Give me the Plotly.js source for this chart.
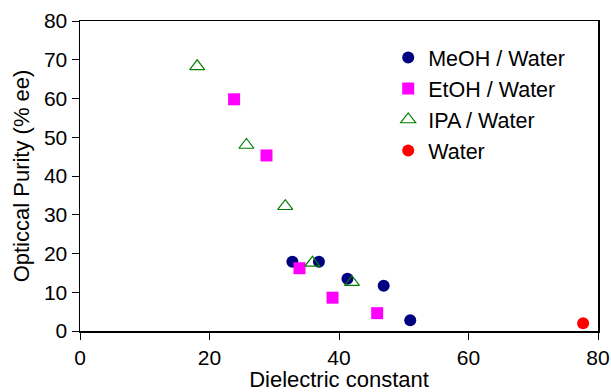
<!DOCTYPE html>
<html><head><meta charset="utf-8">
<script src="https://cdn.plot.ly/plotly-3.0.1.min.js"></script>
<style>html,body{margin:0;padding:0;background:#fff}</style>
</head><body>
<div id="chart" style="width:611px;height:392px"></div>
<script>
var meohX = [32.8, 36.9, 41.3, 46.9, 51.0];
var meohY = [17.9, 17.9, 13.5, 11.7, 2.8];
var etohX = [23.8, 28.8, 33.9, 39.0, 45.9];
var etohY = [59.8, 45.3, 16.2, 8.6, 4.6];
var ipaX = [18.1, 25.7, 31.7, 35.9, 42.0];
var ipaY = [68.3, 48.0, 32.2, 17.6, 12.6];
var waterX = [77.7];
var waterY = [2.0];
var names = ['MeOH / Water', 'EtOH / Water', 'IPA / Water', 'Water'];

var traces = [
  {x: meohX, y: meohY, name: names[0], legendgroup: 'a', mode: 'markers', type: 'scatter',
   marker: {symbol: 'circle', size: 12, color: '#000080'}},
  {x: etohX, y: etohY, name: names[1], legendgroup: 'b', mode: 'markers', type: 'scatter',
   marker: {symbol: 'square', size: 12, color: '#FF00FF'}},
  {x: ipaX, y: ipaY, name: names[2], legendgroup: 'c', mode: 'markers', type: 'scatter',
   marker: {symbol: 'triangle-up-open', size: 13, color: '#008000', line: {width: 1.2, color: '#008000'}}},
  {x: waterX, y: waterY, name: names[3], legendgroup: 'd', mode: 'markers', type: 'scatter',
   marker: {symbol: 'circle', size: 12, color: '#FF0000'}}
];

var layout = {
  width: 611, height: 392,
  margin: {l: 80, r: 13, t: 21, b: 61},
  paper_bgcolor: '#fff', plot_bgcolor: '#fff',
  font: {family: 'Liberation Sans, Arial, sans-serif', size: 21, color: '#000'},
  showlegend: true,
  legend: {x: 0.595, y: 0.948, xanchor: 'left', yanchor: 'top', bgcolor: 'rgba(0,0,0,0)',
           font: {size: 21.5}, tracegroupgap: 0, itemwidth: 30},
  xaxis: {range: [0, 80], dtick: 20, showgrid: false, zeroline: false,
          showline: true, linecolor: '#000', linewidth: 1.5, mirror: true,
          ticks: 'outside', ticklen: 7, tickcolor: '#000', tickfont: {size: 21},
          title: {text: 'Dielectric constant', standoff: 1, font: {size: 22}}},
  yaxis: {range: [0, 80], dtick: 10, showgrid: false, zeroline: false,
          showline: true, linecolor: '#000', linewidth: 1.5, mirror: true,
          ticks: 'outside', ticklen: 7, tickcolor: '#000', tickfont: {size: 21},
          title: {text: 'Opticcal Purity (% ee)', standoff: 8, font: {size: 22}}}
};
Plotly.newPlot('chart', traces, layout, {displayModeBar: false, staticPlot: true});
</script>
</body></html>
